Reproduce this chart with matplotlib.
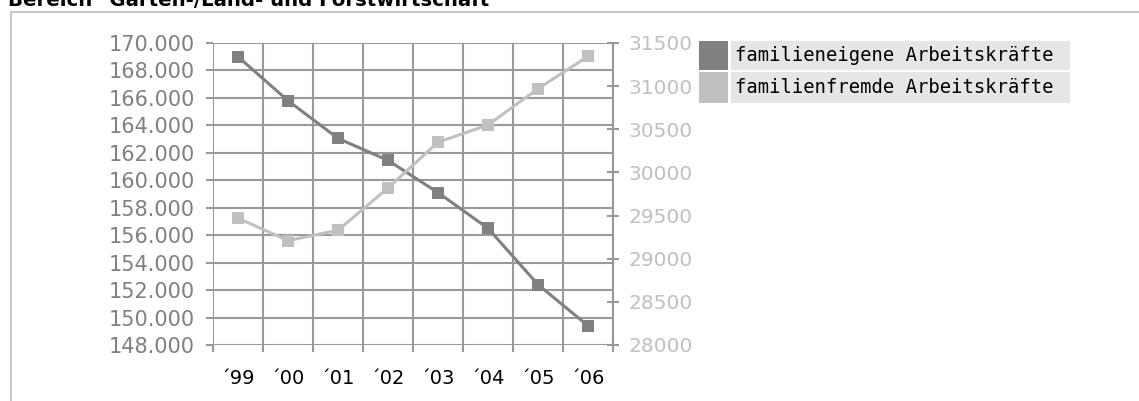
import matplotlib
matplotlib.use("Agg")
import matplotlib.pyplot as plt
from matplotlib.patches import Rectangle
from matplotlib.lines import Line2D
from matplotlib.ticker import FuncFormatter

W, H = 1139, 401

years = ["´99", "´00", "´01", "´02", "´03", "´04", "´05", "´06"]
familieneigene = [169000, 165800, 163050, 161450, 159100, 156500, 152400, 149400]
familienfremde = [29470, 29210, 29330, 29820, 30350, 30550, 30970, 31345]
series_names = ["familieneigene Arbeitskräfte", "familienfremde Arbeitskräfte"]
title = 'Bereich "Garten-/Land- und Forstwirtschaft'

left_ticks = list(range(148000, 170001, 2000))
right_ticks = list(range(28000, 31501, 500))

dark = "#808080"
light = "#c0c0c0"
gridc = "#999999"

fig = plt.figure(figsize=(W / 100, H / 100), dpi=100)
fig.patch.set_facecolor("white")

def fx(x):
    return x / W

def fy(y):
    return 1 - y / H

# outer frame
fig.add_artist(Line2D([fx(11), fx(11)], [fy(12), fy(401)], color="#c8c8c8", lw=1.5))
fig.add_artist(Line2D([fx(11), fx(1139)], [fy(12), fy(12)], color="#c8c8c8", lw=1.5))

# title (cut off at top, as in the reference)
fig.text(fx(8), fy(5.5), title, fontsize=14.2, fontweight="bold", color="black",
         ha="left", va="baseline")

L, R, T, B = 213, 613, 43, 345
ax = fig.add_axes([fx(L), fy(B), fx(R - L), (B - T) / H])
ax2 = ax.twinx()

x = list(range(len(years)))
ax.plot(x, familieneigene, color=dark, lw=2.2, marker="s", markersize=8.5,
        markeredgewidth=0, zorder=5)
ax2.plot(x, familienfremde, color=light, lw=2.2, marker="s", markersize=8.5,
         markeredgewidth=0, zorder=5)

ax.set_xlim(-0.5, len(years) - 0.5)
ax.set_ylim(148000, 170000)
ax2.set_ylim(28000, 31500)

ax.set_yticks(left_ticks)
ax.yaxis.set_major_formatter(FuncFormatter(lambda v, p: f"{int(v):,}".replace(",", ".")))
ax.tick_params(axis="y", labelsize=15, labelcolor=dark, color=gridc, length=5,
               width=1.5, direction="out", pad=8)
ax.set_xticks(x)
ax.set_xticklabels(years)
ax.set_xticks([i - 0.5 for i in range(len(years) + 1)], minor=True)
ax.tick_params(axis="x", which="major", length=0, labelsize=14, labelcolor="black", pad=17)
ax.tick_params(axis="x", which="minor", length=5, width=1.5, color=gridc, direction="out")
ax.grid(True, axis="y", which="major", color=gridc, lw=1.5)
ax.grid(True, axis="x", which="minor", color=gridc, lw=1.5)
ax.grid(False, axis="x", which="major")
ax.set_axisbelow(True)

ax2.set_yticks(right_ticks)
ax2.tick_params(axis="y", labelsize=14.5, labelcolor=light, color=gridc, length=8,
                width=1.5, direction="inout", pad=7)

for a in (ax, ax2):
    for s in a.spines.values():
        s.set_visible(False)
ax2.spines["right"].set_visible(True)
ax2.spines["right"].set_color(gridc)
ax2.spines["right"].set_linewidth(1.5)

# legend drawn manually
rows = [(41, 70, dark, series_names[0]), (72, 103, light, series_names[1])]
for top, bot, col, name in rows:
    fig.add_artist(Rectangle((fx(699), fy(bot)), fx(728 - 699), (bot - top) / H,
                             facecolor=col, edgecolor="none", transform=fig.transFigure))
    fig.add_artist(Rectangle((fx(731), fy(bot)), fx(1070 - 731), (bot - top) / H,
                             facecolor="#e6e6e6", edgecolor="none", transform=fig.transFigure))
    fig.text(fx(735), fy((top + bot) / 2), name, fontsize=13.6, color="black",
             family="DejaVu Sans Mono", ha="left", va="center")

fig.savefig("out.png", dpi=100)
